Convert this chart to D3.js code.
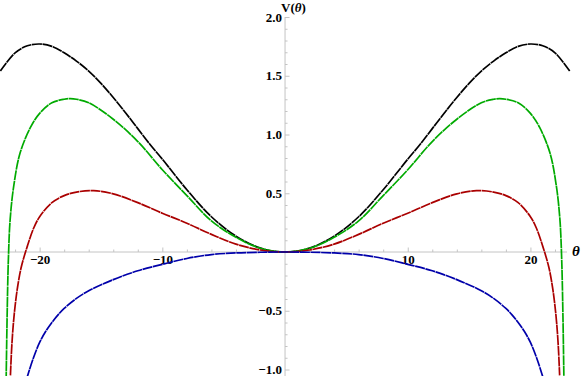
<!DOCTYPE html>
<html>
<head>
<meta charset="utf-8">
<script src="https://cdn.jsdelivr.net/npm/d3@7"></script>
<style>
  body { margin: 0; background: #fff; }
  text { font-family: "Liberation Serif", "Times New Roman", serif; font-weight: bold; }
</style>
</head>
<body>
<script>
// values, theta -> V(theta)
var blackTheta = [-23.2,-22,-21,-20,-19,-18,-17,-16,-15,-14,-13,-12,-11,-10,-8,-6,-4,-2,0,2,4,6,8,10,11,12,13,14,15,16,17,18,19,20,21,22,23.2];
var blackV = [1.54,1.695,1.755,1.77,1.75,1.695,1.625,1.54,1.435,1.315,1.185,1.05,0.915,0.79,0.53,0.30,0.135,0.033,0,0.033,0.135,0.30,0.53,0.79,0.915,1.05,1.185,1.315,1.435,1.54,1.625,1.695,1.75,1.77,1.755,1.695,1.54];

var greenTheta = [-22.73,-22.65,-22.55,-22.4,-22.1,-21.6,-20.75,-20,-19,-18,-17.5,-17,-16,-14,-12,-10,-8,-6,-4,-2,0,2,4,6,8,10,12,14,16,17,17.5,18,19,20,20.75,21.6,22.1,22.4,22.55,22.65,22.73];
var greenV = [-1.1,-0.55,-0.07,0.28,0.57,0.84,1.06,1.18,1.27,1.30,1.305,1.30,1.27,1.13,0.94,0.70,0.48,0.265,0.125,0.032,0,0.032,0.125,0.265,0.48,0.70,0.94,1.13,1.27,1.30,1.305,1.30,1.27,1.18,1.06,0.84,0.57,0.28,-0.07,-0.55,-1.1];

var redTheta = [-22.38,-22.28,-22.15,-22,-21.8,-21.5,-21,-20.5,-20,-19,-18,-17,-15.6,-14,-12,-10,-8,-6,-4,-2,0,2,4,6,8,10,12,14,15.6,17,18,19,20,20.5,21,21.5,21.8,22,22.15,22.28,22.38];
var redV = [-1.05,-0.82,-0.62,-0.46,-0.3,-0.13,0.05,0.20,0.30,0.42,0.48,0.51,0.522,0.495,0.42,0.33,0.245,0.15,0.067,0.017,0,0.017,0.067,0.15,0.245,0.33,0.42,0.495,0.522,0.51,0.48,0.42,0.30,0.20,0.05,-0.13,-0.3,-0.46,-0.62,-0.82,-1.05];

var blueTheta = [-21.3,-21,-20.5,-20,-19.5,-19,-18.5,-18,-17,-16,-14,-12,-10,-8,-6,-4,-2,0,2,4,6,8,10,12,14,16,17,18,18.5,19,19.5,20,20.5,21,21.3];
var blueV = [-1.17,-1.06,-0.9,-0.77,-0.675,-0.6,-0.535,-0.48,-0.395,-0.33,-0.235,-0.16,-0.105,-0.055,-0.022,-0.008,-0.002,0,-0.002,-0.008,-0.022,-0.055,-0.105,-0.16,-0.235,-0.33,-0.395,-0.48,-0.535,-0.6,-0.675,-0.77,-0.9,-1.06,-1.17];

var xMajorTicks = [-20, -10, 10, 20];
var yMajorTicks = [-1, -0.5, 0.5, 1, 1.5, 2];

var series = [
  {theta: blackTheta, v: blackV, color: "#000000"},
  {theta: greenTheta, v: greenV, color: "#00aa00"},
  {theta: redTheta, v: redV, color: "#aa0000"},
  {theta: blueTheta, v: blueV, color: "#0000aa"}
];

var width = 581, height = 376;
var svg = d3.select("body").append("svg")
    .attr("width", width).attr("height", height);

var x = d3.scaleLinear().domain([-23.23, 22.98]).range([0, 567]);
var y = d3.scaleLinear().domain([-1, 2]).range([369.5, 17]);

var axisColor = "#c4c4c4";

// minor tick positions (every 2 on theta, every 0.1 on V)
var xMinorTicks = d3.range(-22, 23, 2).filter(function(d){ return d !== 0 && d % 10 !== 0; });
var yMinorTicks = d3.range(-10, 21, 1).map(function(d){ return d / 10; })
    .filter(function(d){ return d !== 0 && Math.abs(d * 2 - Math.round(d * 2)) > 1e-6; });

var axes = svg.append("g");

// x axis line + ticks pointing up
axes.append("line")
    .attr("x1", 0).attr("x2", 567)
    .attr("y1", y(0)).attr("y2", y(0))
    .attr("stroke", axisColor).attr("stroke-width", 1);

var xMinor = d3.axisBottom(x).tickValues(xMinorTicks).tickSizeInner(-2.5).tickSizeOuter(0).tickFormat("");
var xMajor = d3.axisBottom(x).tickValues(xMajorTicks).tickSizeInner(-4.5).tickSizeOuter(0)
    .tickPadding(3).tickFormat(d3.format("d"));

axes.append("g").attr("transform", "translate(0," + y(0) + ")").call(xMinor);
axes.append("g").attr("transform", "translate(0," + y(0) + ")").call(xMajor);

// y axis line + ticks pointing right
axes.append("line")
    .attr("x1", x(0)).attr("x2", x(0))
    .attr("y1", y(2)).attr("y2", height)
    .attr("stroke", axisColor).attr("stroke-width", 1);

var yMinor = d3.axisLeft(y).tickValues(yMinorTicks).tickSizeInner(-2.5).tickSizeOuter(0).tickFormat("");
var yMajor = d3.axisLeft(y).tickValues(yMajorTicks).tickSizeInner(-4.5).tickSizeOuter(0)
    .tickPadding(3).tickFormat(d3.format(".1f"));

axes.append("g").attr("transform", "translate(" + x(0) + ",0)").call(yMinor);
axes.append("g").attr("transform", "translate(" + x(0) + ",0)").call(yMajor);

axes.selectAll(".domain").remove();
axes.selectAll(".tick line").attr("stroke", axisColor);
axes.selectAll(".tick text")
    .attr("fill", "#000")
    .attr("font-family", null).attr("font-size", null)
    .style("font-size", "13px")
    .style("font-family", "'Liberation Serif', 'Times New Roman', serif")
    .style("font-weight", "bold");

// curves
var line = d3.line()
    .x(function(d){ return x(d[0]); })
    .y(function(d){ return y(d[1]); })
    .curve(d3.curveCatmullRom.alpha(0.5));

var curves = svg.append("g");
series.forEach(function(s){
  var pts = s.theta.map(function(t, i){ return [t, s.v[i]]; });
  curves.append("path")
      .datum(pts)
      .attr("d", line)
      .attr("fill", "none")
      .attr("stroke", s.color)
      .attr("stroke-width", 1.7)
      .attr("stroke-dasharray", "10,0.6");
});

// axis labels
var vLabel = svg.append("text")
    .attr("x", x(0) - 4).attr("y", 12)
    .style("font-size", "13px");
vLabel.append("tspan").text("V(");
vLabel.append("tspan").style("font-style", "italic").text("θ");
vLabel.append("tspan").text(")");

svg.append("text")
    .attr("x", 572).attr("y", 256)
    .style("font-size", "15px")
    .style("font-style", "italic")
    .text("θ");
</script>
</body>
</html>
